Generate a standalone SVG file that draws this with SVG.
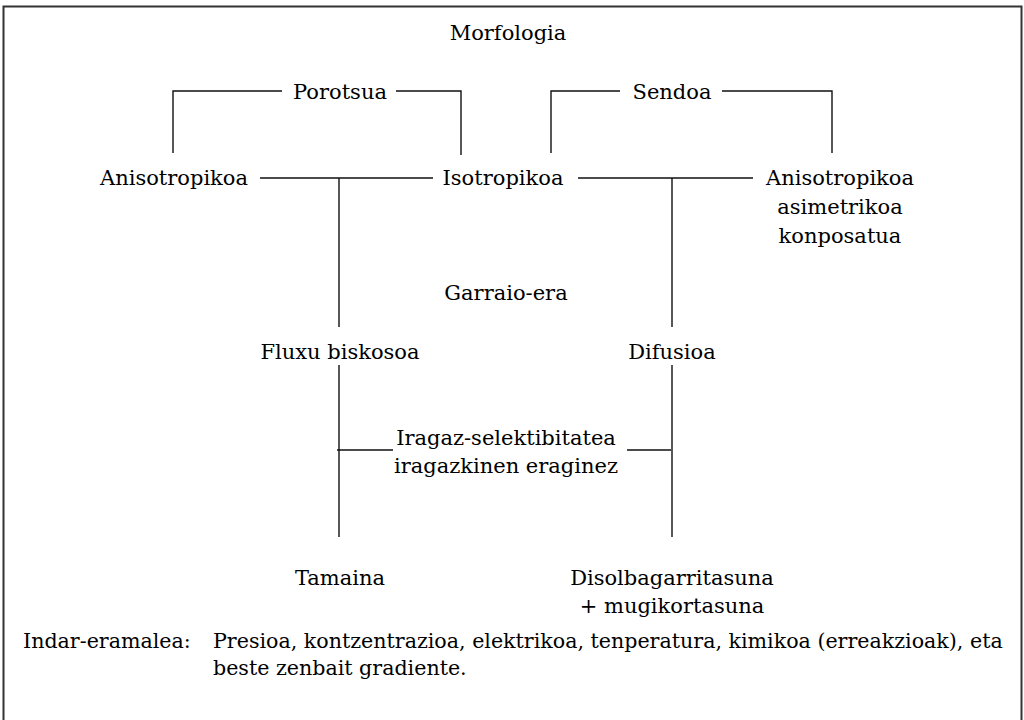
<svg xmlns="http://www.w3.org/2000/svg" width="1024" height="720" viewBox="0 0 1024 720">
<style>
text{font-family:"DejaVu Serif","Liberation Serif",serif;font-size:21px;fill:#000}
.c{text-anchor:middle}
.s{font-size:20.6px}
.ln{fill:none;stroke:#111;stroke-width:1.4}
</style>
<rect x="0" y="0" width="1024" height="720" fill="#fff"/>
<rect x="3.5" y="6.5" width="1018" height="720" fill="none" stroke="#333" stroke-width="2"/>
<g id="connectors">
<path class="ln" d="M173,153 V91 H282 M396,91 H461 V155"/>
<path class="ln" d="M551,153 V91 H620 M722,91 H832 V153"/>
<path class="ln" d="M260,178 H433 M339,178 V327 M339,365 V537"/>
<path class="ln" d="M578,178 H753 M672,178 V327 M672,365 V537"/>
<path class="ln" d="M337,450 H393 M627,450 H671"/>
</g>
<g id="morfologia"><text class="c" x="508" y="40">Morfologia</text></g>
<g id="porotsua"><text class="c" x="340" y="99">Porotsua</text></g>
<g id="sendoa"><text class="c" x="672" y="99">Sendoa</text></g>
<g id="anisotropikoa1"><text class="c" x="174" y="185">Anisotropikoa</text></g>
<g id="isotropikoa"><text class="c" x="503" y="185">Isotropikoa</text></g>
<g id="anisotropikoa2"><text class="c" x="840" y="185">Anisotropikoa</text><text class="c" x="840" y="214">asimetrikoa</text><text class="c" x="840" y="243">konposatua</text></g>
<g id="garraio"><text class="c" x="506" y="300">Garraio-era</text></g>
<g id="fluxu"><text class="c" x="340" y="359">Fluxu biskosoa</text></g>
<g id="difusioa"><text class="c" x="672" y="359">Difusioa</text></g>
<g id="iragaz"><text class="c" x="506" y="445">Iragaz-selektibitatea</text><text class="c" x="506" y="473">iragazkinen eraginez</text></g>
<g id="tamaina"><text class="c" x="340" y="585">Tamaina</text></g>
<g id="disolb"><text class="c" x="672" y="585">Disolbagarritasuna</text><text class="c" x="672" y="613">+ mugikortasuna</text></g>
<g id="indar"><text class="s" x="23" y="648">Indar-eramalea:</text><text class="s" x="213" y="648">Presioa, kontzentrazioa, elektrikoa, tenperatura, kimikoa (erreakzioak), eta</text><text class="s" x="213" y="675">beste zenbait gradiente.</text></g>
</svg>
